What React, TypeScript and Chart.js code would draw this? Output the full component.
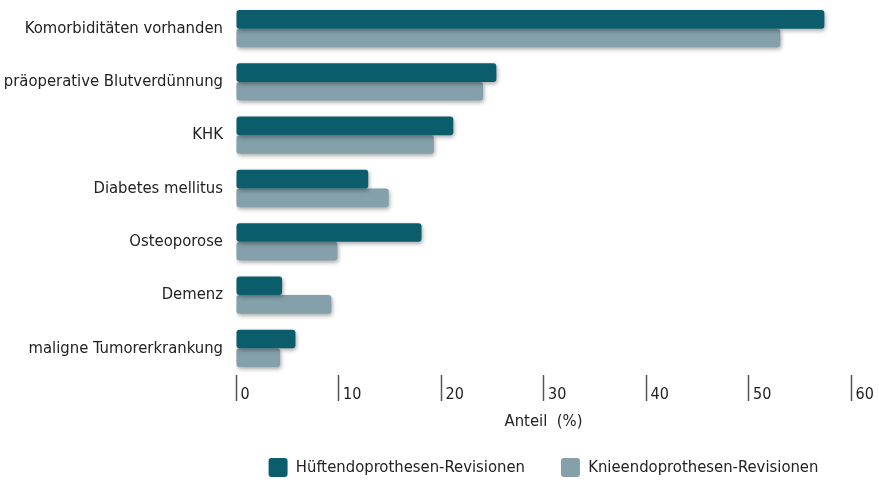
import React, { useEffect, useRef } from "react";
import { Chart, registerables } from "chart.js";

Chart.register(...registerables);

const categories = [
  "Komorbiditäten vorhanden",
  "präoperative Blutverdünnung",
  "KHK",
  "Diabetes mellitus",
  "Osteoporose",
  "Demenz",
  "maligne Tumorerkrankung",
];
const hueftValues = [57.4, 25.4, 21.2, 12.9, 18.1, 4.5, 5.8];
const knieValues = [53.1, 24.1, 19.3, 14.9, 9.9, 9.3, 4.3];
const seriesNames = ["Hüftendoprothesen-Revisionen", "Knieendoprothesen-Revisionen"];
const xTicks = [0, 10, 20, 30, 40, 50, 60];
const axisTitle = "Anteil  (%)";

const FONT = "'Liberation Sans Narrow', 'DejaVu Sans Condensed', 'Liberation Sans', sans-serif";
const LEGEND_PAD = 36;

const shadowPlugin = {
  id: "barShadow",
  beforeDatasetsDraw(chart: any) {
    const c = chart.ctx;
    c.save();
    c.shadowColor = "rgba(0,0,0,0.35)";
    c.shadowBlur = 4;
    c.shadowOffsetX = 1;
    c.shadowOffsetY = 2;
  },
  afterDatasetsDraw(chart: any) {
    chart.ctx.restore();
  },
};

const legendPlacePlugin = {
  id: "legendPlace",
  afterLayout(chart: any) {
    const lg = chart.legend;
    if (!lg) return;
    const center = (chart.chartArea.left + chart.chartArea.right) / 2;
    lg.right = chart.width;
    lg.left = 2 * center - chart.width;
    lg.top = 458 - LEGEND_PAD;
  },
};

export default function App() {
  const ref = useRef<HTMLCanvasElement | null>(null);
  useEffect(() => {
    if (!ref.current) return;
    const chart = new Chart(ref.current, {
      type: "bar",
      data: {
        labels: categories,
        datasets: [
          {
            label: seriesNames[0],
            data: hueftValues,
            backgroundColor: "#0b5d6c",
            borderRadius: 3,
            borderSkipped: false,
            barPercentage: 1,
            categoryPercentage: 0.7,
          },
          {
            label: seriesNames[1],
            data: knieValues,
            backgroundColor: "#84a1ab",
            borderRadius: 3,
            borderSkipped: false,
            barPercentage: 1,
            categoryPercentage: 0.7,
          },
        ],
      },
      options: {
        indexAxis: "y",
        responsive: false,
        animation: false,
        layout: { padding: { top: 2, right: 28, bottom: 0, left: 0 } },
        plugins: {
          tooltip: { enabled: false },
          legend: {
            position: "bottom",
            maxHeight: 30,
            labels: {
              font: { family: FONT, size: 16.5 },
              color: "#222",
              boxWidth: 19,
              boxHeight: 19,
              useBorderRadius: true,
              borderRadius: 3,
              padding: LEGEND_PAD,
            },
          },
        },
        scales: {
          x: {
            type: "linear",
            min: 0,
            max: 60,
            afterBuildTicks: (scale: any) => {
              scale.ticks = xTicks.map((v) => ({ value: v }));
            },
            afterFit: (scale: any) => {
              scale.height = 77;
              scale.paddingLeft = 0;
              scale.paddingRight = 0;
            },
            border: { display: false },
            grid: {
              drawOnChartArea: false,
              drawTicks: true,
              tickLength: 26,
              tickColor: "#555",
              tickWidth: 1.5,
            },
            ticks: {
              align: "start",
              padding: -16,
              color: "#222",
              font: { family: FONT, size: 16 },
              callback: (v: any) => " " + v,
            },
            title: {
              display: true,
              text: axisTitle,
              color: "#222",
              font: { family: FONT, size: 16.5 },
              padding: { top: 0, bottom: 20 },
            },
          },
          y: {
            border: { display: false },
            grid: { display: false },
            afterFit: (scale: any) => {
              scale.width = 236;
              scale.paddingTop = 0;
              scale.paddingBottom = 0;
            },
            ticks: {
              color: "#222",
              padding: 5,
              font: { family: FONT, size: 16.5 },
            },
          },
        },
      },
      plugins: [shadowPlugin, legendPlacePlugin],
    } as any);
    return () => chart.destroy();
  }, []);
  return (
    <div style={{ position: "absolute", left: 0, top: 0, width: 879, height: 482 }}>
      <canvas ref={ref} width={879} height={482} style={{ display: "block" }} />
    </div>
  );
}
